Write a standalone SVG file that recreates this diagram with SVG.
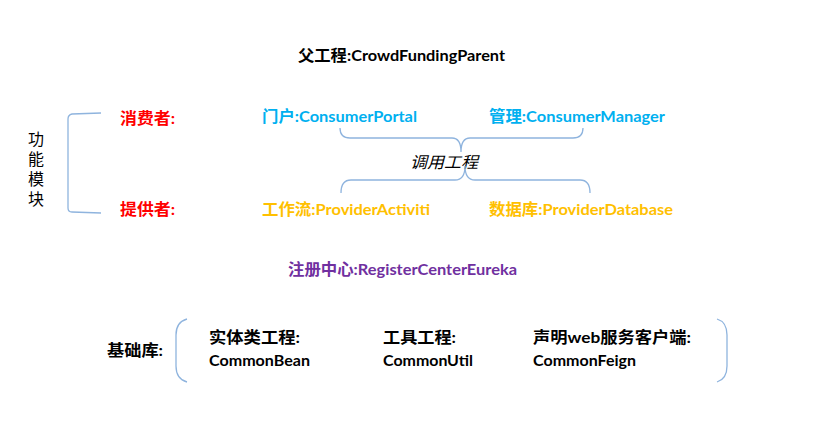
<svg xmlns="http://www.w3.org/2000/svg" width="813" height="446" viewBox="0 0 813 446">
<style>
text{font-family:"Lato","Noto Sans CJK SC",sans-serif;font-size:16px;font-weight:bold}
.blk{fill:#000}
.red{fill:#FF0000}
.cyan{fill:#00B0F0}
.org{fill:#FFC000}
.pur{fill:#7030A0}
.br{fill:none;stroke:#8FB4DE;stroke-width:1.3}
</style>
<rect width="813" height="446" fill="#fff"/>
<g id="parent"><text class="blk" x="298" y="61" textLength="207" lengthAdjust="spacingAndGlyphs">父工程:CrowdFundingParent</text></g>
<g id="func-label">
<text class="blk" x="36" y="145" text-anchor="middle" style="font-weight:normal">功</text>
<text class="blk" x="36" y="165" text-anchor="middle" style="font-weight:normal">能</text>
<text class="blk" x="36" y="185" text-anchor="middle" style="font-weight:normal">模</text>
<text class="blk" x="36" y="205" text-anchor="middle" style="font-weight:normal">块</text>
</g>
<g id="consumer"><text class="red" x="120" y="124" textLength="55" lengthAdjust="spacingAndGlyphs">消费者:</text></g>
<g id="provider"><text class="red" x="120" y="215" textLength="55" lengthAdjust="spacingAndGlyphs">提供者:</text></g>
<g id="portal"><text class="cyan" x="262" y="122" textLength="155" lengthAdjust="spacingAndGlyphs">门户:ConsumerPortal</text></g>
<g id="manager"><text class="cyan" x="489" y="122" textLength="176" lengthAdjust="spacingAndGlyphs">管理:ConsumerManager</text></g>
<g id="call"><text class="blk" x="410" y="168" textLength="68" lengthAdjust="spacingAndGlyphs" style="font-weight:normal;font-style:italic">调用工程</text></g>
<g id="activiti"><text class="org" x="262" y="215" textLength="168" lengthAdjust="spacingAndGlyphs">工作流:ProviderActiviti</text></g>
<g id="database"><text class="org" x="489" y="215" textLength="184" lengthAdjust="spacingAndGlyphs">数据库:ProviderDatabase</text></g>
<g id="eureka"><text class="pur" x="288" y="275" textLength="229" lengthAdjust="spacingAndGlyphs">注册中心:RegisterCenterEureka</text></g>
<g id="base-label"><text class="blk" x="107" y="356" textLength="56" lengthAdjust="spacingAndGlyphs">基础库:</text></g>
<g id="bean">
<text class="blk" x="209" y="343" textLength="91" lengthAdjust="spacingAndGlyphs">实体类工程:</text>
<text class="blk" x="209" y="366" textLength="101" lengthAdjust="spacingAndGlyphs">CommonBean</text>
</g>
<g id="util">
<text class="blk" x="383" y="343" textLength="73" lengthAdjust="spacingAndGlyphs">工具工程:</text>
<text class="blk" x="383" y="366" textLength="90" lengthAdjust="spacingAndGlyphs">CommonUtil</text>
</g>
<g id="feign">
<text class="blk" x="533" y="343" textLength="158" lengthAdjust="spacingAndGlyphs">声明web服务客户端:</text>
<text class="blk" x="533" y="366" textLength="103" lengthAdjust="spacingAndGlyphs">CommonFeign</text>
</g>
<g id="connectors">
<path class="br" d="M101,113 L72,114 Q68,115 68,119 L68,208 Q68,212 72,212 L101,213"/>
<path class="br" d="M340,128 Q340,138 350,138 L452,138 Q461,138 461,152 Q461,138 470,138 L573,138 Q583,138 583,128"/>
<path class="br" d="M341,193 Q341,180 351,180 L455,180 Q465,180 465,166 Q465,180 475,180 L580,180 Q590,180 590,193"/>
<path class="br" d="M187,319 Q176,322 176,335 L176,366 Q176,379 187,382"/>
<path class="br" d="M717,319 Q727,322 727,335 L727,366 Q727,379 717,382"/>
</g>
</svg>
